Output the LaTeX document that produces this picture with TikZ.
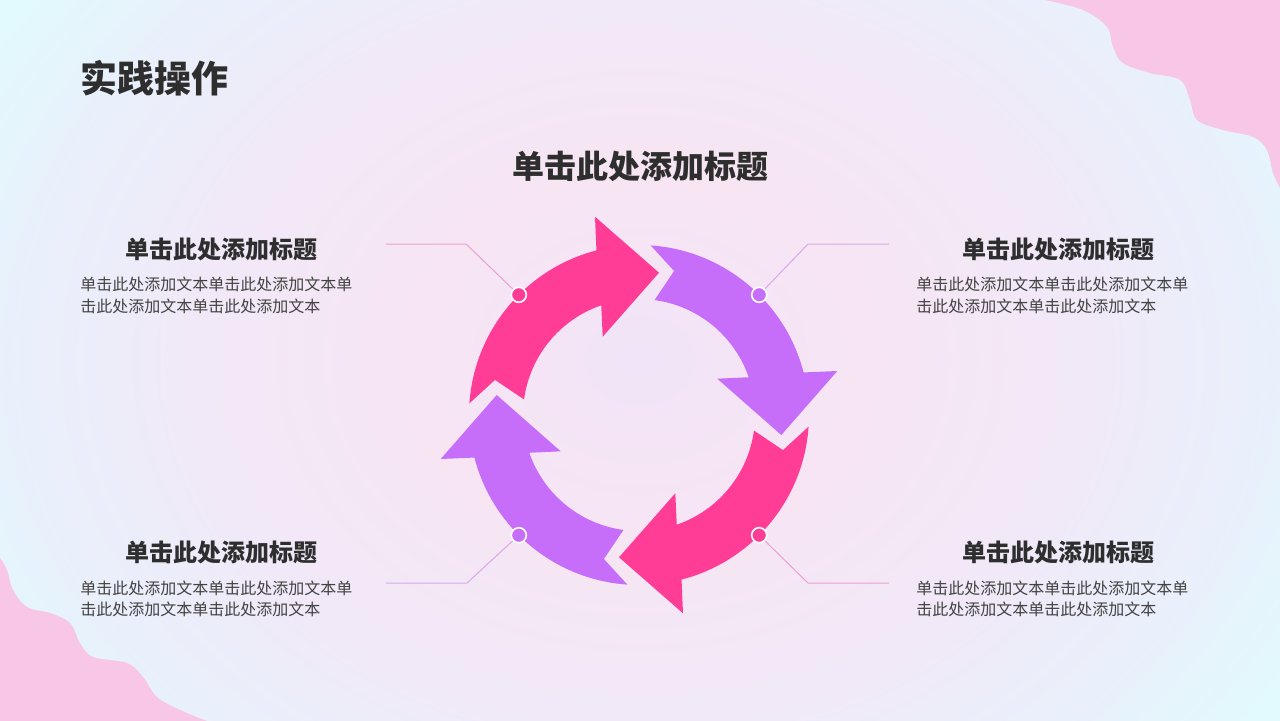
\documentclass[tikz,border=0pt]{standalone}
\usepackage{fontspec}
\setmainfont{Noto Sans CJK SC}
\definecolor{pinkA}{HTML}{FF3D97}
\definecolor{purpA}{HTML}{C66EF9}
\definecolor{blob}{HTML}{F8C6E6}
\definecolor{lnpink}{HTML}{EBA0CF}
\definecolor{lnpurp}{HTML}{D9A8F0}
\definecolor{ttl}{HTML}{2E2E2E}
\definecolor{bdy}{HTML}{424242}
\definecolor{bgA}{HTML}{F1E4F8}
\definecolor{bgB}{HTML}{F7E5F3}
\definecolor{bgC}{HTML}{F1E9F8}
\definecolor{bgE}{HTML}{E9F0FB}
\definecolor{bgD}{HTML}{E2F9FD}
\pgfdeclareradialshading{bgshade}{\pgfpoint{0bp}{0bp}}{color(0bp)=(bgA); color(8bp)=(bgB); color(16bp)=(bgC); color(22bp)=(bgE); color(27bp)=(bgD); color(50bp)=(bgD)}
\newcommand{\cycarrow}[2]{%
  \begin{scope}[shift={(639,305)}, rotate=#1]
    \fill[#2] (176.06:170) -- (166.3:148.2) -- (172.3:116)
      arc[start angle=172.3, end angle=109, radius=116]
      -- (-36.3,78.3) -- (20,142.3) -- (-44,198.3) -- (104.5:170)
      arc[start angle=104.5, end angle=176.06, radius=170] -- cycle;
  \end{scope}}
\tikzset{
  dotpink/.style={circle, fill=pinkA, draw=white, line width=0.8pt, minimum size=7.5pt, inner sep=0pt},
  dotpurp/.style={circle, fill=purpA, draw=white, line width=0.8pt, minimum size=7.5pt, inner sep=0pt},
  conpink/.style={draw=lnpink, line width=0.5pt},
  conpurp/.style={draw=lnpurp, line width=0.5pt},
  maintitle/.style={text=ttl, font=\bfseries\fontsize{18.5}{22}\selectfont, inner sep=0pt},
  bigtitle/.style={text=ttl, font=\bfseries\fontsize{16}{20}\selectfont, inner sep=0pt},
  subtitle/.style={text=ttl, font=\bfseries\fontsize{12}{14}\selectfont, inner sep=0pt},
  bodytext/.style={text=bdy, font=\fontsize{8}{10.75}\selectfont, align=left, anchor=west, inner sep=0pt}
}
\begin{document}
\begin{tikzpicture}[x=0.5pt,y=0.5pt]
\useasboundingbox (0,0) rectangle (1280,720);
\clip (0,0) rectangle (1280,720);
% background
\shade[shading=bgshade] (-60,-200) rectangle (1340,920);
\fill[blob] (1040,725) -- plot[smooth, tension=0.6] coordinates {(1045,720) (1083,710) (1107,693) (1113,673) (1123,657) (1150,647) (1180,640) (1190,620) (1197,600) (1223,590) (1253,583) (1267,570) (1273,547) (1281,530)} -- (1285,530) -- (1285,725) -- cycle;
\fill[blob] (-5,162) -- plot[smooth, tension=0.6] coordinates {(0,162) (7,150) (13,130) (27,113) (50,107) (70,97) (80,77) (93,63) (127,57) (143,43) (157,23) (180,10) (207,-1)} -- (207,-5) -- (-5,-5) -- cycle;
% titles
\node[maintitle] (t0) at (154.5,642) {实践操作};
\node[bigtitle] (t1) at (640,554) {单击此处添加标题};
% arrows
\cycarrow{0}{pinkA}
\cycarrow{-90}{purpA}
\cycarrow{-180}{pinkA}
\cycarrow{-270}{purpA}
% dots
\node[dotpink] (d1) at (518.8,425.2) {};
\node[dotpurp] (d2) at (759.2,425.2) {};
\node[dotpurp] (d3) at (518.8,184.8) {};
\node[dotpink] (d4) at (759.2,184.8) {};
% connector corners and ends
\coordinate (k1) at (466,476); \coordinate (e1) at (386,476);
\coordinate (k2) at (808,476); \coordinate (e2) at (889,476);
\coordinate (k3) at (467,137); \coordinate (e3) at (386,137);
\coordinate (k4) at (808,137); \coordinate (e4) at (889,137);
\draw[conpink] (d1) -- (k1) -- (e1);
\draw[conpurp] (d2) -- (k2) -- (e2);
\draw[conpurp] (d3) -- (k3) -- (e3);
\draw[conpink] (d4) -- (k4) -- (e4);
% side texts
\node[subtitle] (s1) at (221.5,471) {单击此处添加标题};
\node[bodytext] (b1) at (80,424.5) {单击此处添加文本单击此处添加文本单\\击此处添加文本单击此处添加文本};
\node[subtitle] (s2) at (1058,471) {单击此处添加标题};
\node[bodytext] (b2) at (916,424.5) {单击此处添加文本单击此处添加文本单\\击此处添加文本单击此处添加文本};
\node[subtitle] (s3) at (221.5,167.5) {单击此处添加标题};
\node[bodytext] (b3) at (80,121) {单击此处添加文本单击此处添加文本单\\击此处添加文本单击此处添加文本};
\node[subtitle] (s4) at (1058,167.5) {单击此处添加标题};
\node[bodytext] (b4) at (916,121) {单击此处添加文本单击此处添加文本单\\击此处添加文本单击此处添加文本};
\end{tikzpicture}
\end{document}
